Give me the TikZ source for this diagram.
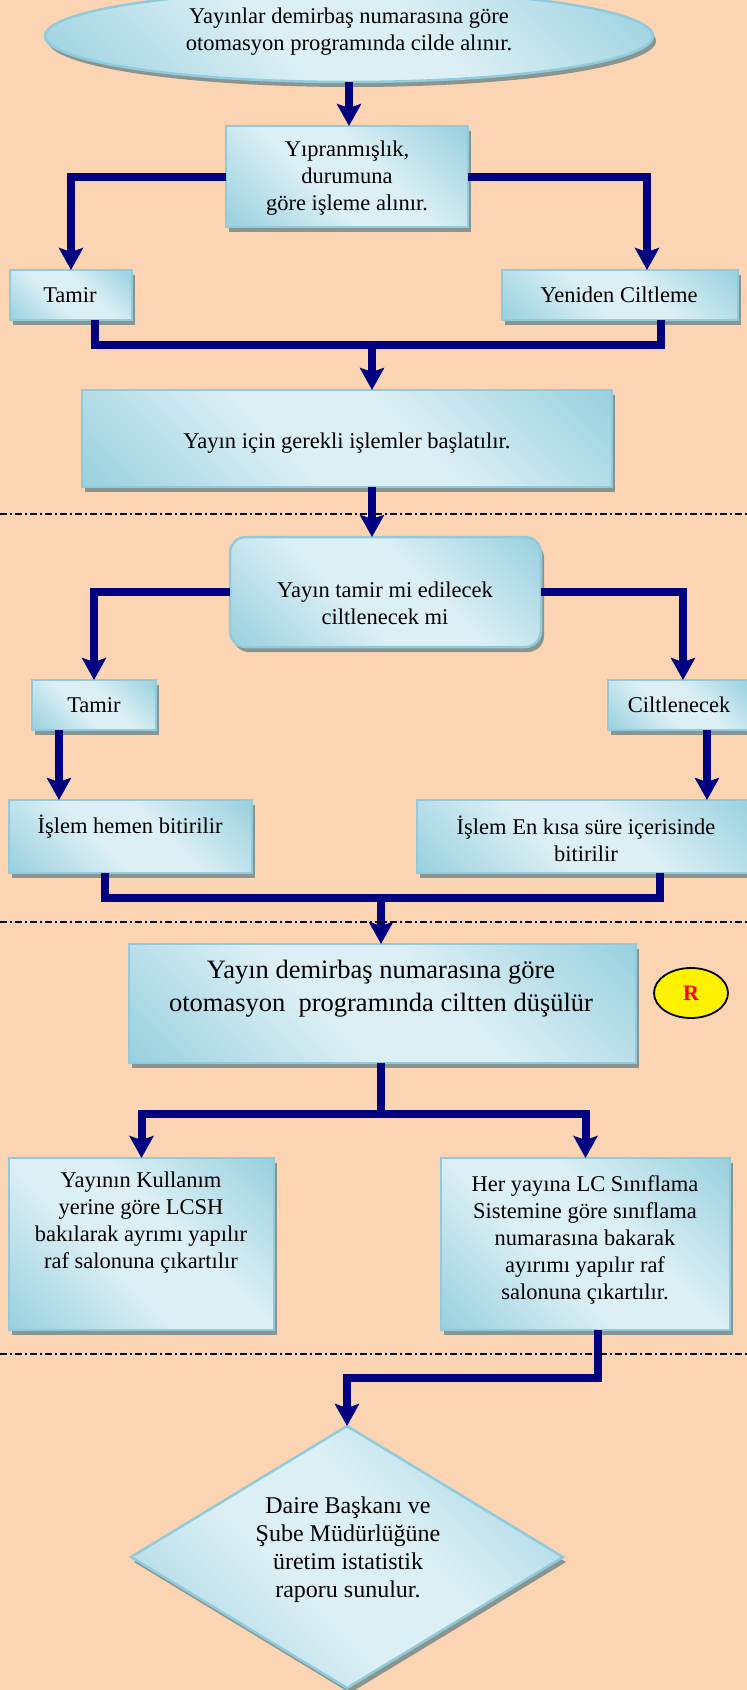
\documentclass[tikz,border=0pt]{standalone}
\usepackage{fontspec}
\setmainfont{Liberation Serif}
\usetikzlibrary{arrows.meta,shapes.geometric,shadows}

\definecolor{peach}{HTML}{FBD4B4}
\definecolor{aqdk}{HTML}{92CDDC}
\definecolor{aqlt}{HTML}{DCEFF5}
\definecolor{aqline}{HTML}{8FCBDC}
\definecolor{shgray}{RGB}{140,148,142}
\definecolor{navyblue}{HTML}{000080}

% diagonal aqua gradient: dark towards two opposite corners, light through the middle
\pgfdeclareverticalshading{aquadiag}{100bp}{color(0bp)=(aqdk); color(12bp)=(aqdk); color(42bp)=(aqlt); color(58bp)=(aqlt); color(88bp)=(aqdk); color(100bp)=(aqdk)}

\tikzset{
  flowshape/.style={draw=aqline, line width=2.5pt, inner sep=0pt, outer sep=0pt,
    shading=aquadiag, shading angle=-45,
    drop shadow={shadow xshift=3pt, shadow yshift=-5pt, fill=shgray, opacity=1}},
  rectbox/.style={flowshape, rectangle},
  roundbox/.style={flowshape, rectangle, rounded corners=16pt},
  ovalbox/.style={flowshape, ellipse},
  decisionbox/.style={flowshape, diamond},
  txt/.style={align=center, inner sep=0pt, text=black, font=\fontsize{22.5}{27}\selectfont},
  bigtxt/.style={txt, font=\fontsize{26.5}{33}\selectfont},
  diatxt/.style={txt, font=\fontsize{24}{28}\selectfont},
  conn/.style={draw=navyblue, line width=8pt, line join=miter},
  arr/.style={conn, -{Stealth[length=22pt, width=24pt, inset=4pt]}},
  sepline/.style={draw=black, line width=1.8pt, dash pattern=on 7pt off 3pt on 2pt off 3pt},
  rmark/.style={ellipse, draw=black, line width=1.8pt, fill=yellow, inner sep=0pt,
    minimum width=74pt, minimum height=50pt, text=red, font=\fontsize{22}{26}\selectfont\bfseries}
}

\begin{document}
\begin{tikzpicture}[x=1pt, y=-1pt]
\useasboundingbox (0,0) rectangle (747,1690);
\fill[peach] (0,0) rectangle (747,1690);

% ---- shapes ----
\node[ovalbox, minimum width=608pt, minimum height=92pt] (e1) at (349,36) {};
\node[rectbox, minimum width=242pt, minimum height=101pt] (b1) at (347,176.5) {};
\node[rectbox, minimum width=122pt, minimum height=50pt] (t1) at (71,295) {};
\node[rectbox, minimum width=236pt, minimum height=50pt] (y1) at (620,295) {};
\node[rectbox, minimum width=530pt, minimum height=97pt] (b2) at (347,438.5) {};
\node[roundbox, minimum width=311pt, minimum height=110pt] (r1) at (385.5,592) {};
\node[rectbox, minimum width=124pt, minimum height=50pt] (t2) at (94,705) {};
\node[rectbox, minimum width=142pt, minimum height=50pt] (c2) at (679,705) {};
\node[rectbox, minimum width=243pt, minimum height=73pt] (i1) at (130.5,836.5) {};
\node[rectbox, minimum width=338pt, minimum height=73pt] (i2) at (586,836.5) {};
\node[rectbox, minimum width=507pt, minimum height=119pt] (g1) at (382.5,1003.5) {};
\node[rectbox, minimum width=265pt, minimum height=172pt] (k1) at (141.5,1244) {};
\node[rectbox, minimum width=289pt, minimum height=172pt] (k2) at (585.5,1244) {};
\node[decisionbox, minimum width=432pt, minimum height=262pt] (d1) at (347,1557) {};
\node[rmark] (rr) at (691,993) {R};

% ---- texts ----
\node[txt] (e1t) at (349,31.5) {Yayınlar demirbaş numarasına göre\\otomasyon programında cilde alınır.};
\node[txt] (b1t) at (347,178) {Yıpranmışlık,\\durumuna\\göre işleme alınır.};
\node[txt] (t1t) at (70,295) {Tamir};
\node[txt] (y1t) at (619,295) {Yeniden Ciltleme};
\node[txt] (b2t) at (347,443) {Yayın için gerekli işlemler başlatılır.};
\node[txt] (r1t) at (385,603.5) {Yayın tamir mi edilecek\\ciltlenecek mi};
\node[txt] (t2t) at (94,705) {Tamir};
\node[txt] (c2t) at (679,705) {Ciltlenecek};
\node[txt] (i1t) at (130,827) {İşlem hemen bitirilir};
\node[txt] (i2t) at (586,838.5) {İşlem En kısa süre içerisinde\\bitirilir};
\node[bigtxt] (g1t) at (381,989) {Yayın demirbaş numarasına göre\\otomasyon\ \ programında ciltten düşülür};
\node[txt] (k1t) at (141,1223) {Yayının Kullanım\\yerine göre LCSH\\bakılarak ayrımı yapılır\\raf salonuna çıkartılır};
\node[txt] (k2t) at (585,1240) {Her yayına LC Sınıflama\\Sistemine göre sınıflama\\numarasına bakarak\\ayırımı yapılır raf\\salonuna çıkartılır.};
\node[diatxt] (d1t) at (348,1550) {Daire Başkanı ve\\Şube Müdürlüğüne\\üretim istatistik\\raporu sunulur.};

% ---- connectors ----
\coordinate (m1) at (372,345);
\coordinate (m2) at (381,898);
\coordinate (m3) at (381,1114);
\coordinate (m4) at (347,1378);

\draw[arr] (e1.south) -- (e1.south |- b1.north);
\draw[arr] (b1.west) -| (t1.north);
\draw[arr] (b1.east) -| ([xshift=27pt]y1.north);
\draw[conn] ([xshift=24pt]t1.south) |- (m1) -| ([xshift=41pt]y1.south);
\draw[arr] (m1) -- (m1 |- b2.north);
\draw[arr] ([xshift=25pt]b2.south) -- ([xshift=25pt]b2.south |- r1.north);
\draw[arr] (r1.west) -| (t2.north);
\draw[arr] (r1.east) -| ([xshift=4pt]c2.north);
\draw[arr] ([xshift=-35pt]t2.south) -- ([xshift=-35pt]t2.south |- i1.north);
\draw[arr] ([xshift=28pt]c2.south) -- ([xshift=28pt]c2.south |- i2.north);
\draw[conn] ([xshift=-25.5pt]i1.south) |- (m2) -| ([xshift=74pt]i2.south);
\draw[arr] (m2) -- (m2 |- g1.north);
\draw[conn] (m3 |- g1.south) -- (m3);
\draw[arr] (m3) -| (k1.north);
\draw[arr] (m3) -| (k2.north);
\draw[arr] ([xshift=12pt]k2.south) |- (m4) -- (d1.north);

% ---- section separators ----
\draw[sepline] (0,514) -- (747,514);
\draw[sepline] (0,922) -- (747,922);
\draw[sepline] (0,1354) -- (747,1354);
\end{tikzpicture}
\end{document}
